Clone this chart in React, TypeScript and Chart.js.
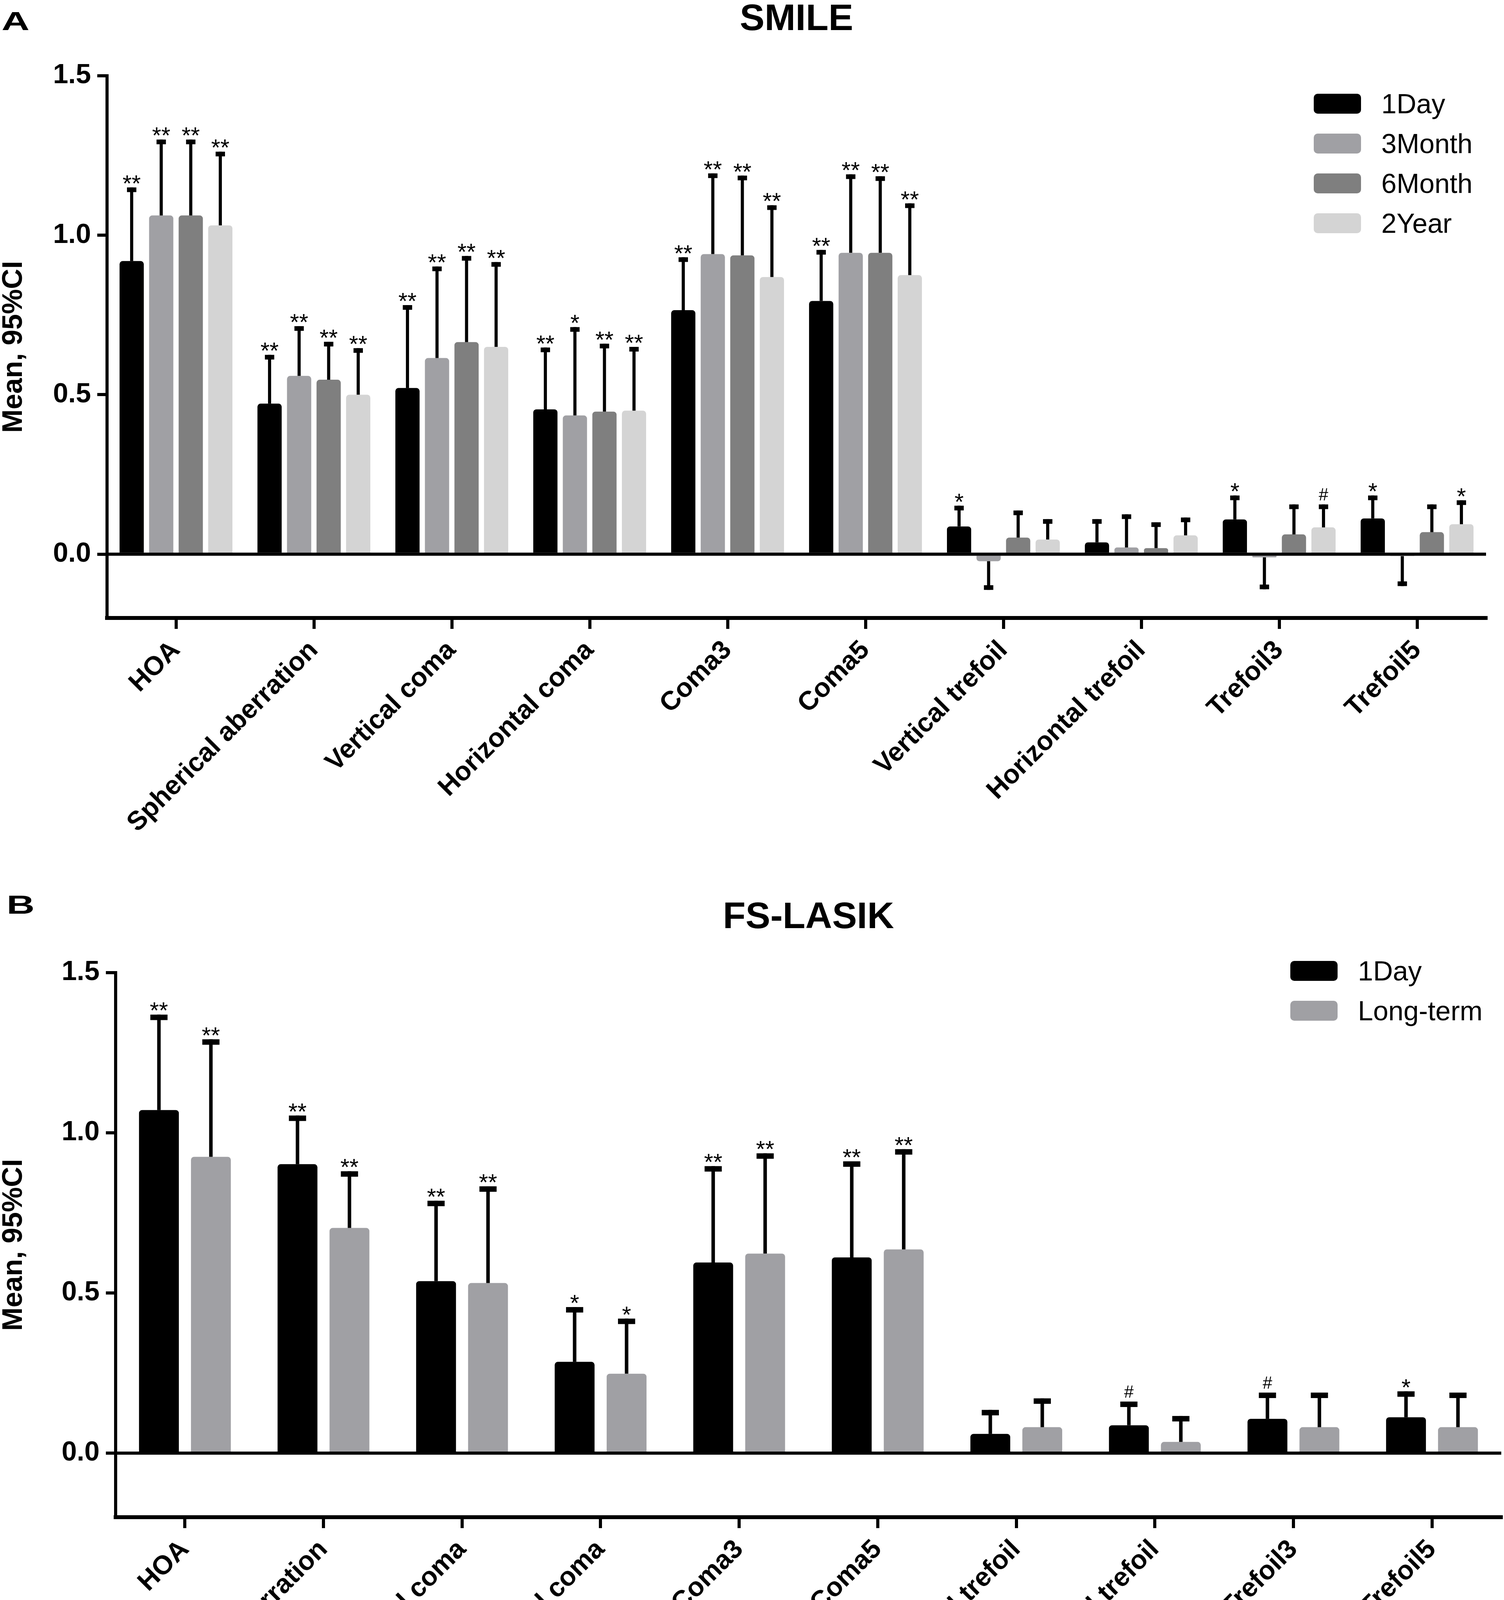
import React, { useEffect, useRef } from 'react';
import { Chart, registerables } from 'chart.js';

Chart.register(...registerables);

const FONT = "'Liberation Sans', Arial, Helvetica, sans-serif";

// ---------- data ----------
const categories = [
  'HOA',
  'Spherical aberration',
  'Vertical coma',
  'Horizontal coma',
  'Coma3',
  'Coma5',
  'Vertical trefoil',
  'Horizontal trefoil',
  'Trefoil3',
  'Trefoil5',
];
const yTickValues = [0, 0.5, 1.0, 1.5];
const yMin = -0.2;
const yMax = 1.5;

// Panel A: SMILE (mean and CI end point)
const smileLabels = ['1Day', '3Month', '6Month', '2Year'];
const smile1Day = [0.919, 0.472, 0.521, 0.454, 0.765, 0.794, 0.087, 0.037, 0.109, 0.112];
const smile1DayCI = [1.15, 0.625, 0.781, 0.648, 0.931, 0.954, 0.152, 0.11, 0.184, 0.184];
const smile1DaySig = ['**', '**', '**', '**', '**', '**', '*', '', '*', '*'];
const smile3Month = [1.062, 0.559, 0.615, 0.435, 0.941, 0.945, -0.022, 0.021, -0.01, -0.006];
const smile3MonthCI = [1.3, 0.715, 0.902, 0.712, 1.194, 1.191, -0.112, 0.125, -0.11, -0.1];
const smile3MonthSig = ['**', '**', '**', '*', '**', '**', '', '', '', ''];
const smile6Month = [1.062, 0.547, 0.665, 0.447, 0.937, 0.945, 0.052, 0.019, 0.062, 0.069];
const smile6MonthCI = [1.3, 0.666, 0.935, 0.66, 1.187, 1.185, 0.137, 0.1, 0.156, 0.156];
const smile6MonthSig = ['**', '**', '**', '**', '**', '**', '', '', '', ''];
const smile2Year = [1.031, 0.5, 0.65, 0.45, 0.869, 0.875, 0.046, 0.059, 0.084, 0.094];
const smile2YearCI = [1.262, 0.646, 0.916, 0.65, 1.094, 1.1, 0.11, 0.115, 0.156, 0.169];
const smile2YearSig = ['**', '**', '**', '**', '**', '**', '', '', '#', '*'];

// Panel B: FS-LASIK
const lasikLabels = ['1Day', 'Long-term'];
const lasik1Day = [1.071, 0.902, 0.537, 0.285, 0.595, 0.611, 0.06, 0.087, 0.107, 0.112];
const lasik1DayCI = [1.369, 1.054, 0.788, 0.456, 0.896, 0.911, 0.135, 0.161, 0.189, 0.193];
const lasik1DaySig = ['**', '**', '**', '*', '**', '**', '', '#', '#', '*'];
const lasikLong = [0.925, 0.703, 0.531, 0.248, 0.623, 0.636, 0.081, 0.035, 0.081, 0.081];
const lasikLongCI = [1.292, 0.88, 0.833, 0.42, 0.936, 0.949, 0.171, 0.116, 0.189, 0.189];
const lasikLongSig = ['**', '**', '**', '*', '**', '**', '', '', '', ''];

// ---------- styles ----------
const COLORS4 = ['#000000', '#a0a0a4', '#7f7f7f', '#d4d4d4'];
const COLORS2 = ['#000000', '#a0a0a4'];

interface Series {
  label: string;
  color: string;
  values: number[];
  ci: number[];
  sig: string[];
}

interface PanelSpec {
  letter: string;
  title: string;
  top: number;
  width: number;
  height: number;
  padding: { top: number; right: number; bottom: number; left: number };
  yWidth: number;
  xHeight: number;
  barPct: number;
  catPct: number;
  capW: number;
  capH: number;
  lineW: number;
  titleBaseline: number;
  letterX: number;
  letterBaseline: number;
  legendX: number;
  legendY: number;
  series: Series[];
}

const decorPlugin = {
  id: 'decor',
  afterDatasetsDraw(chart: any, _args: any, opts: any) {
    const ctx = chart.ctx as CanvasRenderingContext2D;
    const ys = chart.scales.y;
    const area = chart.chartArea;
    ctx.save();
    ctx.fillStyle = '#000';
    // zero line
    const y0 = ys.getPixelForValue(0);
    ctx.fillRect(area.left, y0 - 4, area.right - area.left, 8);
    chart.data.datasets.forEach((ds: any, i: number) => {
      const meta = chart.getDatasetMeta(i);
      meta.data.forEach((el: any, j: number) => {
        const end = ds.ci[j];
        const x = el.x;
        const yv = el.y;
        const ye = ys.getPixelForValue(end);
        const top = Math.min(yv, ye);
        const bot = Math.max(yv, ye);
        ctx.fillStyle = '#000';
        ctx.fillRect(x - opts.lineW / 2, top, opts.lineW, bot - top);
        if (ye <= yv) {
          ctx.fillRect(x - opts.capW / 2, ye, opts.capW, opts.capH);
        } else {
          ctx.fillRect(x - opts.capW / 2, ye - opts.capH, opts.capW, opts.capH);
        }
        const s = ds.sig[j];
        if (s) {
          const size = s === '#' ? 44 : 60;
          ctx.font = `${size}px ${FONT}`;
          ctx.textAlign = 'center';
          ctx.textBaseline = 'alphabetic';
          const m = ctx.measureText(s);
          const gap = 10;
          const baseline = ye - gap - m.actualBoundingBoxDescent;
          ctx.fillText(s, x, baseline);
        }
      });
    });
    ctx.restore();
  },
  afterDraw(chart: any, _args: any, opts: any) {
    const ctx = chart.ctx as CanvasRenderingContext2D;
    const area = chart.chartArea;
    ctx.save();
    ctx.fillStyle = '#000';
    // title
    ctx.font = `bold 95px ${FONT}`;
    ctx.textAlign = 'center';
    ctx.textBaseline = 'alphabetic';
    ctx.fillText(opts.title, (area.left + area.right) / 2, opts.titleBaseline);
    // panel letter (wide bold)
    ctx.save();
    ctx.font = `bold 66px ${FONT}`;
    ctx.textAlign = 'left';
    ctx.translate(opts.letterX, opts.letterBaseline);
    ctx.scale(1.5, 1);
    ctx.fillText(opts.letter, 0, 0);
    ctx.restore();
    // legend
    ctx.font = `70px ${FONT}`;
    ctx.textAlign = 'left';
    ctx.textBaseline = 'alphabetic';
    chart.data.datasets.forEach((ds: any, i: number) => {
      const bx = opts.legendX;
      const by = opts.legendY + i * 102;
      ctx.fillStyle = ds.backgroundColor;
      ctx.beginPath();
      (ctx as any).roundRect(bx, by, 121, 51, 10);
      ctx.fill();
      ctx.fillStyle = '#000';
      ctx.fillText(ds.label, bx + 173, by + 50);
    });
    ctx.restore();
  },
};

function buildConfig(spec: PanelSpec): any {
  return {
    type: 'bar',
    data: {
      labels: categories,
      datasets: spec.series.map((s) => ({
        label: s.label,
        data: s.values,
        ci: s.ci,
        sig: s.sig,
        backgroundColor: s.color,
        borderWidth: 0,
        borderRadius: 8,
        borderSkipped: 'start',
        barPercentage: spec.barPct,
        categoryPercentage: spec.catPct,
      })),
    },
    options: {
      responsive: false,
      animation: false,
      devicePixelRatio: 1,
      layout: { padding: spec.padding },
      plugins: {
        legend: { display: false },
        title: { display: false },
        tooltip: { enabled: false },
        decor: {
          title: spec.title,
          titleBaseline: spec.titleBaseline,
          letter: spec.letter,
          letterX: spec.letterX,
          letterBaseline: spec.letterBaseline,
          legendX: spec.legendX,
          legendY: spec.legendY,
          capW: spec.capW,
          capH: spec.capH,
          lineW: spec.lineW,
        },
      },
      scales: {
        x: {
          type: 'category',
          offset: true,
          grid: {
            display: true,
            offset: false,
            drawOnChartArea: false,
            drawTicks: true,
            tickLength: 28,
            tickWidth: 8,
            tickColor: '#000',
            lineWidth: 8,
            color: '#000',
          },
          border: { display: true, width: 10, color: '#000' },
          ticks: {
            autoSkip: false,
            maxRotation: 45,
            minRotation: 45,
            padding: 15,
            color: '#000',
            font: { family: FONT, size: 68, weight: 'bold' },
          },
          afterFit: (s: any) => {
            s.height = spec.xHeight;
          },
        },
        y: {
          type: 'linear',
          min: yMin,
          max: yMax,
          afterBuildTicks: (s: any) => {
            s.ticks = yTickValues.map((v) => ({ value: v }));
          },
          grid: {
            display: true,
            drawOnChartArea: false,
            drawTicks: true,
            tickLength: 25,
            tickWidth: 8,
            tickColor: '#000',
            lineWidth: 8,
            color: '#000',
          },
          border: { display: true, width: 8, color: '#000' },
          ticks: {
            padding: 16,
            color: '#000',
            font: { family: FONT, size: 70, weight: 'bold' },
            callback: (v: any) => Number(v).toFixed(1),
          },
          title: {
            display: true,
            text: 'Mean, 95%CI',
            color: '#000',
            padding: 0,
            font: { family: FONT, size: 72, weight: 'bold', lineHeight: 1 },
          },
          afterFit: (s: any) => {
            s.width = spec.yWidth;
          },
        },
      },
    },
    plugins: [decorPlugin],
  };
}

const smileSeries: Series[] = [
  { label: smileLabels[0], color: COLORS4[0], values: smile1Day, ci: smile1DayCI, sig: smile1DaySig },
  { label: smileLabels[1], color: COLORS4[1], values: smile3Month, ci: smile3MonthCI, sig: smile3MonthSig },
  { label: smileLabels[2], color: COLORS4[2], values: smile6Month, ci: smile6MonthCI, sig: smile6MonthSig },
  { label: smileLabels[3], color: COLORS4[3], values: smile2Year, ci: smile2YearCI, sig: smile2YearSig },
];

const lasikSeries: Series[] = [
  { label: lasikLabels[0], color: COLORS2[0], values: lasik1Day, ci: lasik1DayCI, sig: lasik1DaySig },
  { label: lasikLabels[1], color: COLORS2[1], values: lasikLong, ci: lasikLongCI, sig: lasikLongSig },
];

const panelA: PanelSpec = {
  letter: 'A',
  title: 'SMILE',
  top: 0,
  width: 3850,
  height: 2220,
  padding: { top: 194, right: 46, bottom: 0, left: 0 },
  yWidth: 274,
  xHeight: 638,
  barPct: 0.82,
  catPct: 0.857,
  capW: 24,
  capH: 12,
  lineW: 8,
  titleBaseline: 77,
  letterX: 4,
  letterBaseline: 77,
  legendX: 3363,
  legendY: 240,
  series: smileSeries,
};

const panelB: PanelSpec = {
  letter: 'B',
  title: 'FS-LASIK',
  top: 2240,
  width: 3850,
  height: 2193,
  padding: { top: 250, right: 7, bottom: 0, left: 0 },
  yWidth: 296,
  xHeight: 549,
  barPct: 0.767,
  catPct: 0.75,
  capW: 44,
  capH: 14,
  lineW: 9,
  titleBaseline: 136,
  letterX: 17,
  letterBaseline: 99,
  legendX: 3303,
  legendY: 220,
  series: lasikSeries,
};

function ChartPanel({ spec }: { spec: PanelSpec }) {
  const ref = useRef<HTMLCanvasElement>(null);
  useEffect(() => {
    if (!ref.current) return;
    const chart = new Chart(ref.current, buildConfig(spec));
    return () => {
      chart.destroy();
    };
  }, [spec]);
  return (
    <canvas
      ref={ref}
      width={spec.width}
      height={spec.height}
      style={{
        position: 'absolute',
        left: 0,
        top: spec.top,
        width: spec.width,
        height: spec.height,
        display: 'block',
      }}
    />
  );
}

export default function App() {
  return (
    <div
      style={{
        position: 'absolute',
        left: 0,
        top: 0,
        width: 3850,
        height: 4433,
        background: '#ffffff',
        overflow: 'hidden',
      }}
    >
      <ChartPanel spec={panelA} />
      <ChartPanel spec={panelB} />
    </div>
  );
}
